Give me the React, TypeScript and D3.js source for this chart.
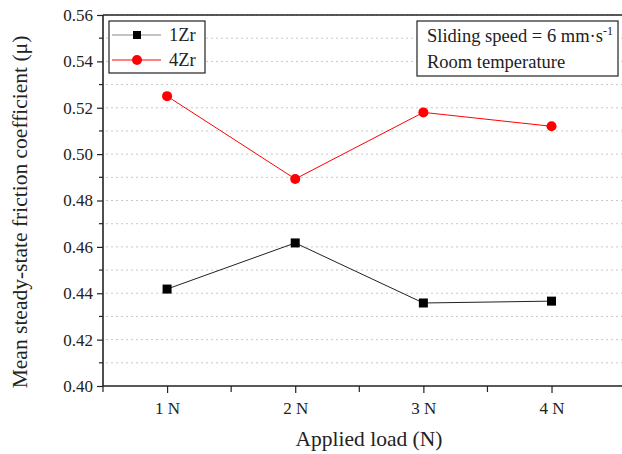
import React, { useEffect, useRef } from "react";
import * as d3 from "d3";

// chart values
const loads = [1, 2, 3, 4];
const loadLabels = ["1 N", "2 N", "3 N", "4 N"];
const zr1 = [0.4418, 0.4617, 0.4358, 0.4366];
const zr4 = [0.525, 0.4893, 0.518, 0.512];
const yTicks = [0.4, 0.42, 0.44, 0.46, 0.48, 0.5, 0.52, 0.54, 0.56];

const W = 622;
const H = 454;
const margin = { top: 15, right: 0, bottom: 68, left: 103 };
const FONT = "'Liberation Serif', 'Times New Roman', serif";

export default function App() {
  const ref = useRef<SVGSVGElement>(null);

  useEffect(() => {
    const svg = d3.select(ref.current);
    svg.selectAll("*").remove();

    const x = d3.scaleLinear().domain([0.5, 4.55]).range([margin.left, W - margin.right]);
    const y = d3.scaleLinear().domain([0.4, 0.56]).range([H - margin.bottom, margin.top]);

    const g = svg.append("g");

    // dotted grid at each 0.01
    const minor = d3.range(0.41, 0.56, 0.01);
    g.selectAll(".grid")
      .data(minor)
      .join("line")
      .attr("x1", margin.left + 3)
      .attr("x2", W)
      .attr("y1", (d) => y(d))
      .attr("y2", (d) => y(d))
      .attr("stroke", "#c8c8c8")
      .attr("stroke-width", 1)
      .attr("stroke-dasharray", "2,3");

    // y axis
    const yAxis = g.append("g").attr("transform", `translate(${margin.left},0)`);
    yAxis.call(
      d3.axisLeft(y).tickValues(yTicks).tickFormat(d3.format(".2f")).tickSize(6).tickPadding(4)
    );
    yAxis.selectAll(".tick.minor")
      .data(d3.range(0.41, 0.56, 0.02))
      .join("line")
      .attr("class", "tick minor")
      .attr("x1", 0)
      .attr("x2", -4)
      .attr("y1", (d) => y(d))
      .attr("y2", (d) => y(d))
      .attr("stroke", "#222")
      .attr("stroke-width", 1.2);

    // x axis
    const xAxis = g.append("g").attr("transform", `translate(0,${H - margin.bottom})`);
    xAxis.call(
      d3.axisBottom(x).tickValues(loads).tickFormat((d, i) => loadLabels[i]).tickSize(7).tickPadding(9)
    );
    xAxis.selectAll(".tick.minor")
      .data([0.5, 1.5, 2.5, 3.5])
      .join("line")
      .attr("class", "tick minor")
      .attr("x1", (d) => x(d))
      .attr("x2", (d) => x(d))
      .attr("y1", 0)
      .attr("y2", 6)
      .attr("stroke", "#222")
      .attr("stroke-width", 1.2);

    for (const ax of [xAxis, yAxis]) {
      ax.select(".domain").attr("stroke", "#222").attr("stroke-width", 1.6);
      ax.selectAll(".tick line").attr("stroke", "#222").attr("stroke-width", 1.2);
      ax.selectAll("text")
        .attr("font-family", FONT)
        .attr("font-size", 17)
        .attr("fill", "#222");
    }
    yAxis.select(".domain").attr("d", `M0,${y(0.4)}V${y(0.56)}`);
    xAxis.select(".domain").attr("d", `M${margin.left},0H${W}`);

    // top frame
    g.append("line")
      .attr("x1", margin.left)
      .attr("x2", W)
      .attr("y1", y(0.56))
      .attr("y2", y(0.56))
      .attr("stroke", "#222")
      .attr("stroke-width", 1.6);

    // series
    const line = d3.line<number>().x((d, i) => x(loads[i])).y((d) => y(d));
    g.append("path").datum(zr1).attr("d", line).attr("fill", "none").attr("stroke", "#222").attr("stroke-width", 1);
    g.append("path").datum(zr4).attr("d", line).attr("fill", "none").attr("stroke", "#ff0000").attr("stroke-width", 1);

    g.selectAll(".sq")
      .data(zr1)
      .join("rect")
      .attr("x", (d, i) => x(loads[i]) - 4.5)
      .attr("y", (d) => y(d) - 4.5)
      .attr("width", 9)
      .attr("height", 9)
      .attr("fill", "#000");
    g.selectAll(".ci")
      .data(zr4)
      .join("circle")
      .attr("cx", (d, i) => x(loads[i]))
      .attr("cy", (d) => y(d))
      .attr("r", 5)
      .attr("fill", "#ff0000");

    // legend
    const lg = g.append("g").attr("transform", "translate(109,21)");
    lg.append("rect").attr("width", 96).attr("height", 52).attr("fill", "white").attr("stroke", "#222").attr("stroke-width", 1.2);
    const items = [
      { name: "1Zr", shape: "sq" },
      { name: "4Zr", shape: "ci" },
    ];
    items.forEach((it, i) => {
      const cy = 14 + i * 25;
      lg.append("line").attr("x1", 3).attr("x2", 52).attr("y1", cy).attr("y2", cy).attr("stroke", it.shape === "sq" ? "#888" : "#ff0000").attr("stroke-width", 1);
      if (it.shape === "sq") {
        lg.append("rect").attr("x", 24).attr("y", cy - 4).attr("width", 8).attr("height", 8).attr("fill", "#000");
      } else {
        lg.append("circle").attr("cx", 28).attr("cy", cy).attr("r", 5).attr("fill", "#ff0000");
      }
      lg.append("text").attr("x", 60).attr("y", cy + 6).attr("font-family", FONT).attr("font-size", 18.5).attr("fill", "#222").text(it.name);
    });

    // annotation box
    const ann = g.append("g").attr("transform", "translate(417,21)");
    ann.append("rect").attr("width", 201).attr("height", 55).attr("fill", "white").attr("stroke", "#222").attr("stroke-width", 1.2);
    const t1 = ann.append("text").attr("x", 10).attr("y", 21).attr("font-family", FONT).attr("font-size", 18.5).attr("fill", "#222");
    t1.append("tspan").text("Sliding speed = 6 mm·s");
    t1.append("tspan").attr("dy", -7).attr("font-size", 12).text("-1");
    ann.append("text").attr("x", 10).attr("y", 47).attr("font-family", FONT).attr("font-size", 18.5).attr("fill", "#222").text("Room temperature");

    // axis titles
    g.append("text")
      .attr("x", 369)
      .attr("y", 446)
      .attr("text-anchor", "middle")
      .attr("font-family", FONT)
      .attr("font-size", 21.5)
      .attr("fill", "#222")
      .text("Applied load (N)");
    g.append("text")
      .attr("transform", `translate(27,212) rotate(-90)`)
      .attr("text-anchor", "middle")
      .attr("font-family", FONT)
      .attr("font-size", 21.5)
      .attr("fill", "#222")
      .text("Mean steady-state friction coefficient (μ)");
  }, []);

  return (
    <svg ref={ref} width={W} height={H} style={{ position: "absolute", left: 0, top: 0, background: "white" }} />
  );
}
